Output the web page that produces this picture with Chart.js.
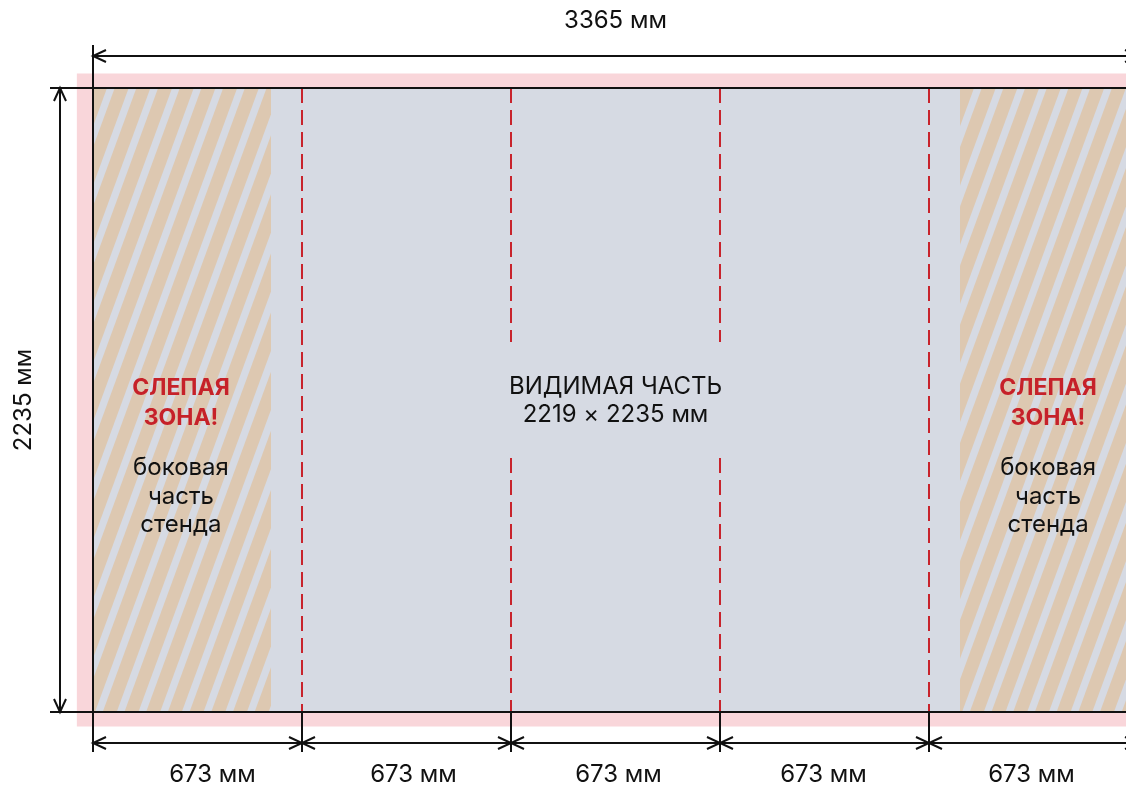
<!DOCTYPE html>
<html>
<head>
<meta charset="utf-8">
<script src="https://cdn.jsdelivr.net/npm/chart.js@4.4.1/dist/chart.umd.min.js"></script>
<style>
  html, body { margin: 0; padding: 0; background: #fff; }
  #wrap { width: 1126px; height: 785px; }
</style>
</head>
<body>
<div id="wrap"><canvas id="standChart"></canvas></div>
<script>
// STAND DATA (mm)
const panelWidths = [673, 673, 673, 673, 673];
const standHeight = 2235;
const visibleWidth = 2219;
const bleed = 52;

// LABELS
const panelLabels = ["673 мм", "673 мм", "673 мм", "673 мм", "673 мм"];
const widthLabel = "3365 мм";
const heightLabel = "2235 мм";
const visibleLabel = ["ВИДИМАЯ ЧАСТЬ", "2219 × 2235 мм"];
const blindTitle = ["СЛЕПАЯ", "ЗОНА!"];
const blindNote = ["боковая", "часть", "стенда"];

const standWidth = panelWidths.reduce((a, b) => a + b, 0);
const blindWidth = (standWidth - visibleWidth) / 2;
const panelEdges = [0];
panelWidths.forEach((w, i) => panelEdges.push(panelEdges[i] + w));

const FONT = "Inter, 'Noto Sans', sans-serif";
const INK = "#111111";
// labels under the panels are not exactly centred in the original
const labelNudge = [15, 7, 3, -1, -2];

function arrowHead(ctx, x, y, dx, dy) {
	const L = 13, W = 6;
	ctx.beginPath();
	ctx.moveTo(x - dx * L - dy * W, y - dy * L + dx * W);
	ctx.lineTo(x, y);
	ctx.lineTo(x - dx * L + dy * W, y - dy * L - dx * W);
	ctx.stroke();
}

function line(ctx, x1, y1, x2, y2) {
	ctx.beginPath();
	ctx.moveTo(x1, y1);
	ctx.lineTo(x2, y2);
	ctx.stroke();
}

const standPlugin = {
	id: "stand",
	beforeDatasetsDraw(chart) {
		const ctx = chart.ctx;
		const X = (v) => chart.scales.x.getPixelForValue(v);
		const Y = (v) => chart.scales.y.getPixelForValue(v);
		const left = X(0), right = X(standWidth);
		const top = Y(standHeight), bottom = Y(0);
		const W = chart.width;

		ctx.save();
		//BLEED
		ctx.fillStyle = "#f9d6da";
		ctx.fillRect(X(-bleed), Y(standHeight + bleed), X(standWidth + bleed) - X(-bleed), Y(-bleed) - Y(standHeight + bleed));
		//BOARD
		ctx.fillStyle = "#d6dae3";
		ctx.fillRect(left, top, right - left, bottom - top);

		//BLIND ZONES (HATCHED)
		[[0, blindWidth], [standWidth - blindWidth, standWidth]].forEach(([a, b]) => {
			const x1 = X(a), x2 = X(b);
			ctx.save();
			ctx.beginPath();
			ctx.rect(x1, top, x2 - x1, bottom - top);
			ctx.clip();
			ctx.fillStyle = "#ddc8b1";
			const h = bottom - top, s = 0.367, period = 21.7, tan = 14;
			for (let x0 = x1 - h * s - period; x0 < x2 + period; x0 += period) {
				ctx.beginPath();
				ctx.moveTo(x0, bottom);
				ctx.lineTo(x0 + tan, bottom);
				ctx.lineTo(x0 + tan + h * s, top);
				ctx.lineTo(x0 + h * s, top);
				ctx.closePath();
				ctx.fill();
			}
			ctx.restore();
		});

		//CENTER TEXT BOX (for dashed gap)
		const midX = X(standWidth / 2);
		ctx.font = "24px " + FONT;
		const boxHalf = Math.max(...visibleLabel.map((t) => ctx.measureText(t).width)) / 2 + 6;
		const gapTop = (top + bottom) / 2 - 58, gapBot = (top + bottom) / 2 + 58;

		//FOLD LINES
		ctx.strokeStyle = "#c8232c";
		ctx.lineWidth = 2;
		ctx.setLineDash([15, 7]);
		panelEdges.slice(1, -1).forEach((e) => {
			const x = Math.round(X(e));
			if (Math.abs(x - midX) < boxHalf) {
				line(ctx, x, top, x, gapTop);
				line(ctx, x, gapBot, x, bottom);
			} else {
				line(ctx, x, top, x, bottom);
			}
		});
		ctx.setLineDash([]);

		//OUTLINES + EXTENSION LINES
		ctx.strokeStyle = INK;
		ctx.lineWidth = 2;
		line(ctx, 50, top, W, top);
		line(ctx, 50, bottom, W, bottom);
		line(ctx, left, 45, left, 752);
		panelEdges.slice(1).forEach((e) => {
			const x = Math.round(X(e));
			line(ctx, x, bottom, x, 752);
		});

		//TOTAL WIDTH ARROW
		const ty = 56;
		line(ctx, left, ty, right, ty);
		arrowHead(ctx, left, ty, -1, 0);
		arrowHead(ctx, right, ty, 1, 0);

		//HEIGHT ARROW
		const hx = 60;
		line(ctx, hx, top, hx, bottom);
		arrowHead(ctx, hx, top, 0, -1);
		arrowHead(ctx, hx, bottom, 0, 1);

		//PANEL ARROWS
		const by = 743;
		panelWidths.forEach((w, i) => {
			const a = X(panelEdges[i]), b = X(panelEdges[i + 1]);
			line(ctx, a, by, b, by);
			arrowHead(ctx, a, by, -1, 0);
			arrowHead(ctx, b, by, 1, 0);
		});

		//TEXTS
		ctx.fillStyle = INK;
		ctx.textAlign = "center";
		ctx.textBaseline = "alphabetic";
		ctx.font = "24px " + FONT;
		ctx.fillText(widthLabel, midX, 28);
		panelLabels.forEach((t, i) => {
			ctx.fillText(t, X(panelEdges[i] + panelWidths[i] / 2) + labelNudge[i], 782);
		});
		ctx.save();
		ctx.translate(31, (top + bottom) / 2);
		ctx.rotate(-Math.PI / 2);
		ctx.fillText(heightLabel, 0, 0);
		ctx.restore();

		ctx.fillText(visibleLabel[0], midX, 394);
		ctx.fillText(visibleLabel[1], midX, 422);

		[blindWidth / 2, standWidth - blindWidth / 2].forEach((c) => {
			const cx = X(c) - 1;
			ctx.fillStyle = "#c62129";
			ctx.font = "bold 23px " + FONT;
			blindTitle.forEach((t, i) => ctx.fillText(t, cx, 395 + i * 30));
			ctx.fillStyle = INK;
			ctx.font = "24px " + FONT;
			blindNote.forEach((t, i) => ctx.fillText(t, cx, 475 + i * 28.5));
		});
		ctx.restore();
	},
};

// SCALE: 93px = 0 mm, 209px per 673 mm horizontally; 88..712px = 2235..0 mm vertically
const kx = 209 / 673;
const ky = 624 / standHeight;

new Chart(document.getElementById("standChart"), {
	type: "scatter",
	data: { datasets: [{ data: [], pointRadius: 0 }] },
	options: {
		responsive: true,
		maintainAspectRatio: false,
		animation: false,
		events: [],
		layout: { padding: 0 },
		scales: {
			x: { type: "linear", display: false, min: -93 / kx, max: (1126 - 93) / kx },
			y: { type: "linear", display: false, min: -(785 - 712) / ky, max: standHeight + 88 / ky },
		},
		plugins: { legend: { display: false }, tooltip: { enabled: false } },
	},
	plugins: [standPlugin],
});
</script>
</body>
</html>
